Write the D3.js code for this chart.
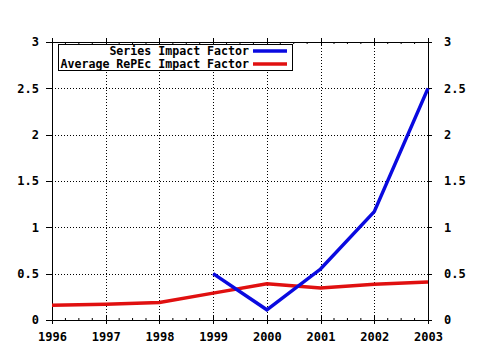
<!DOCTYPE html>
<html>
<head>
<meta charset="utf-8">
<script src="https://cdn.jsdelivr.net/npm/d3@7"></script>
<style>
  html, body { margin: 0; padding: 0; background: #fff; }
  svg text { font-family: "DejaVu Sans Mono", "Liberation Mono", monospace; font-weight: bold; font-size: 12px; fill: #000; }
</style>
</head>
<body>
<svg id="chart" width="480" height="350"></svg>
<script>
// Years on the x axis
const years = [1996, 1997, 1998, 1999, 2000, 2001, 2002, 2003];
// Series impact factor (available from 1999)
const seriesYears = [1999, 2000, 2001, 2002, 2003];
const seriesValues = [0.5, 0.11, 0.55, 1.17, 2.5];
// Average RePEc impact factor
const averageValues = [0.16, 0.17, 0.19, 0.29, 0.39, 0.345, 0.385, 0.41];
// Y tick labels
const yTicks = [0, 0.5, 1, 1.5, 2, 2.5, 3];
const yTickLabels = ["0", "0.5", "1", "1.5", "2", "2.5", "3"];
const legendLabels = ["Series Impact Factor", "Average RePEc Impact Factor"];
const colors = ["#0a0ae0", "#e01010"];

const svg = d3.select("#chart");
const plotLeft = 52, plotRight = 428, plotTop = 42, plotBottom = 320;

const x = d3.scaleLinear().domain([1996, 2003]).range([plotLeft, plotRight]);
const y = d3.scaleLinear().domain([0, 3]).range([plotBottom, plotTop]);

// dotted grid
const grid = svg.append("g").attr("stroke", "#000").attr("stroke-width", 1)
  .attr("stroke-dasharray", "1,2").attr("shape-rendering", "crispEdges");
grid.selectAll("line.v").data(years.slice(1, -1)).enter().append("line")
  .attr("x1", d => Math.round(x(d)) + 0.5).attr("x2", d => Math.round(x(d)) + 0.5)
  .attr("y1", plotTop).attr("y2", plotBottom);
grid.selectAll("line.h").data(yTicks.slice(1, -1)).enter().append("line")
  .attr("x1", plotLeft).attr("x2", plotRight)
  .attr("y1", d => Math.round(y(d)) + 0.5).attr("y2", d => Math.round(y(d)) + 0.5);

// frame: axes with major and minor ticks
const minor = [];
for (let yr = 1996; yr < 2003; yr++) for (let q = 1; q < 4; q++) minor.push(yr + q / 4);

const xBottom = d3.axisBottom(x).tickValues(years).tickFormat(d3.format("d")).tickSize(4).tickPadding(8);
const gb = svg.append("g").attr("transform", `translate(0,${plotBottom})`).call(xBottom);
gb.select(".domain").remove();
gb.selectAll(".tick line").attr("y1", -4);
gb.append("g").selectAll("line").data(minor).enter().append("line")
  .attr("x1", d => x(d)).attr("x2", d => x(d)).attr("y1", -2).attr("y2", 0).attr("stroke", "#000");

const xTop = d3.axisTop(x).tickValues(years).tickFormat("").tickSize(4);
const gt = svg.append("g").attr("transform", `translate(0,${plotTop})`).call(xTop);
gt.select(".domain").remove();
gt.selectAll(".tick line").attr("y1", 4);
gt.append("g").selectAll("line").data(minor).enter().append("line")
  .attr("x1", d => x(d)).attr("x2", d => x(d)).attr("y1", 0).attr("y2", 2).attr("stroke", "#000");

const yLeft = d3.axisLeft(y).tickValues(yTicks).tickFormat((d, i) => yTickLabels[i]).tickSize(6).tickPadding(7);
const gl = svg.append("g").attr("transform", `translate(${plotLeft},0)`).call(yLeft);
gl.select(".domain").remove();

const yRight = d3.axisRight(y).tickValues(yTicks).tickFormat((d, i) => yTickLabels[i]).tickSize(4).tickPadding(12);
const gr = svg.append("g").attr("transform", `translate(${plotRight},0)`).call(yRight);
gr.select(".domain").remove();

svg.selectAll(".tick text").style("font-family", "'DejaVu Sans Mono', monospace").style("font-weight", "bold").style("font-size", "12px");
svg.selectAll(".tick line").attr("shape-rendering", "crispEdges");

svg.append("rect").attr("x", plotLeft + 0.5).attr("y", plotTop + 0.5)
  .attr("width", plotRight - plotLeft).attr("height", plotBottom - plotTop)
  .attr("fill", "none").attr("stroke", "#000").attr("shape-rendering", "crispEdges");

// data lines
const line = d3.line().x(d => x(d[0])).y(d => y(d[1]));
svg.append("path").datum(years.map((yr, i) => [yr, averageValues[i]]))
  .attr("d", line).attr("fill", "none").attr("stroke", colors[1]).attr("stroke-width", 3.5);
svg.append("path").datum(seriesYears.map((yr, i) => [yr, seriesValues[i]]))
  .attr("d", line).attr("fill", "none").attr("stroke", colors[0]).attr("stroke-width", 3.5);

// legend
const lg = svg.append("g");
lg.append("rect").attr("x", 58.5).attr("y", 44.5).attr("width", 234).attr("height", 26)
  .attr("fill", "#fff").attr("stroke", "#000").attr("shape-rendering", "crispEdges");
legendLabels.forEach((t, i) => {
  const yy = 51 + i * 13;
  lg.append("text").attr("x", 249).attr("y", yy).attr("dy", "0.35em")
    .attr("text-anchor", "end").style("font-size", "11.6px").text(t);
  lg.append("line").attr("x1", 253).attr("x2", 287).attr("y1", yy).attr("y2", yy)
    .attr("stroke", colors[i]).attr("stroke-width", 3.5);
});
</script>
</body>
</html>
